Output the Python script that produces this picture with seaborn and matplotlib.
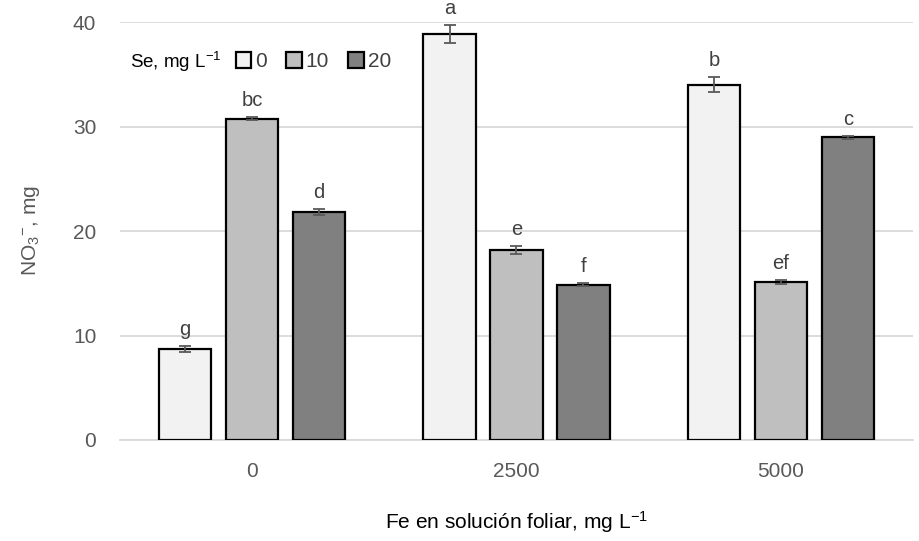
import matplotlib
matplotlib.use("Agg")
import matplotlib.pyplot as plt
import seaborn as sns
import pandas as pd
import numpy as np
from matplotlib.patches import Patch

fe_levels = ["0", "2500", "5000"]
se_levels = ["0", "10", "20"]
values_se0 = [8.7, 38.85, 34.0]
values_se10 = [30.75, 18.2, 15.1]
values_se20 = [21.85, 14.85, 28.95]
err_se0 = [0.3, 0.9, 0.7]
err_se10 = [0.15, 0.4, 0.2]
err_se20 = [0.3, 0.15, 0.1]
letters_se0 = ["g", "a", "b"]
letters_se10 = ["bc", "e", "ef"]
letters_se20 = ["d", "f", "c"]

colors = ["#F2F2F2", "#BFBFBF", "#808080"]

rows = []
for se, vals, errs, lets in zip(se_levels,
                                [values_se0, values_se10, values_se20],
                                [err_se0, err_se10, err_se20],
                                [letters_se0, letters_se10, letters_se20]):
    for fe, v, e, l in zip(fe_levels, vals, errs, lets):
        rows.append(dict(Fe=fe, Se=se, NO3=v, err=e, letter=l))
df = pd.DataFrame(rows)

sns.set_theme(style="white")
plt.rcParams["font.family"] = ["Liberation Sans", "DejaVu Sans"]
plt.rcParams["mathtext.default"] = "regular"

fig = plt.figure(figsize=(9.2, 5.41), dpi=100)
ax = fig.add_axes([0.1304, 0.1867, 0.862, 0.7726])

sns.barplot(data=df, x="Fe", y="NO3", hue="Se", order=fe_levels, hue_order=se_levels,
            palette=colors, width=0.76, gap=0.22, edgecolor="black", linewidth=1.6,
            errorbar=None, legend=False, ax=ax, zorder=3)

# error bars and letters from bar geometry
for container, se in zip(ax.containers, se_levels):
    sub = df[df.Se == se].set_index("Fe").loc[fe_levels]
    for bar, (_, r) in zip(container.patches, sub.iterrows()):
        xc = bar.get_x() + bar.get_width() / 2
        ax.errorbar(xc, r.NO3, yerr=r.err, color="#595959", capsize=4.5,
                    elinewidth=1.3, capthick=1.3, zorder=4)
        ax.annotate(r.letter, (xc, r.NO3 + r.err), xytext=(0, 5),
                    textcoords="offset points", ha="center", va="bottom",
                    fontsize=14.5, color="#404040", annotation_clip=False)

ax.set_xlim(-0.5, 2.5)
ax.set_ylim(0, 40)
ax.set_yticks([0, 10, 20, 30, 40])
ax.yaxis.grid(True, color="#D9D9D9", linewidth=1.3, zorder=0)
ax.set_axisbelow(True)
for s in ["left", "right", "top"]:
    ax.spines[s].set_visible(False)
ax.spines["bottom"].set_color("#D9D9D9")
ax.spines["bottom"].set_linewidth(1.3)
ax.tick_params(axis="both", length=0, labelsize=15, labelcolor="#595959")
ax.tick_params(axis="y", pad=17)
ax.tick_params(axis="x", pad=16)

ax.set_xlabel("Fe en solución foliar, mg L$^{-1}$", fontsize=15, color="black", labelpad=20)
ax.set_ylabel("NO$_3$$^{-}$, mg", fontsize=15, color="#595959", labelpad=22)

# legend
ax.text(0.013, 0.905, "Se, mg L$^{-1}$", transform=ax.transAxes, fontsize=13.5,
        color="black", va="center", ha="left")
handles = [Patch(facecolor=c, edgecolor="black", linewidth=1.6) for c in colors]
ax.legend(handles, se_levels, loc="center left", bbox_to_anchor=(0.146, 0.905),
          ncol=3, frameon=False, fontsize=15, handlelength=0.75, handleheight=0.75,
          handletextpad=0.2, columnspacing=0.9, borderpad=0, borderaxespad=0,
          labelcolor="#404040")

fig.savefig("out.png", dpi=100)
